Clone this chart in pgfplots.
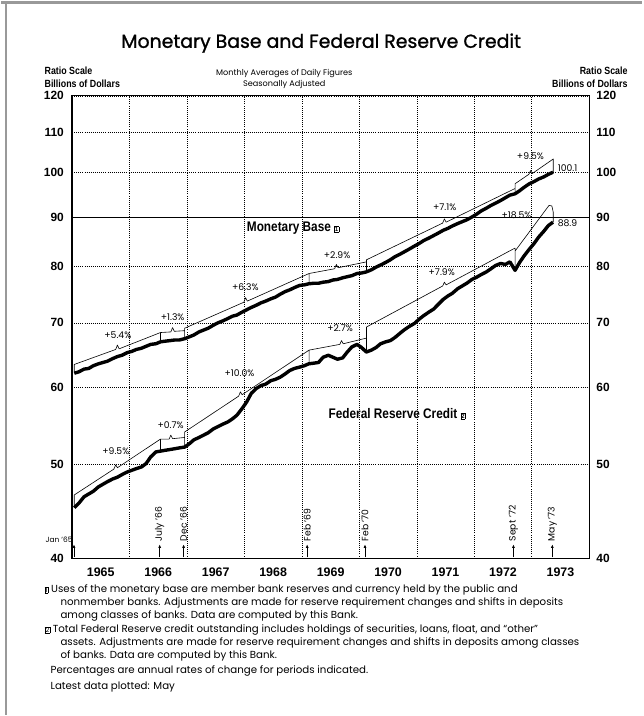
\documentclass[border=0pt]{standalone}
\usepackage{pgfplots}
\pgfplotsset{compat=1.18}
\usetikzlibrary{arrows.meta}
\usepackage{fontspec}
\setmainfont{Poppins}
\newfontfamily\condfont[FakeStretch=0.85]{Liberation Sans}
\newfontfamily\numfont{Liberation Sans}
\newfontfamily\titlefont[FakeBold=1.2]{Poppins}
\newcommand{\fn}[1]{{\setlength{\fboxsep}{0.5pt}\setlength{\fboxrule}{0.4pt}\fbox{\fontsize{6.5}{6.5}\selectfont #1}}}
\newcommand{\pct}{\fontsize{9.3}{10}\selectfont}
\newcommand{\foot}{\fontsize{10.3}{11}\selectfont}

\begin{document}
\begin{tikzpicture}
\begin{scope}[x=1bp,y=-1bp]
\path (0,0) rectangle (643,716);
\draw[black!40, line width=2.5bp] (0,1.5) -- (643,1.5);
\draw[black!40, line width=2.5bp] (5,0) -- (5,716);
\end{scope}

\begin{axis}[
  scale only axis, width=519bp, height=464bp,
  at={(71bp,-559bp)}, anchor=south west,
  xmin=1965, xmax=1974, ymin=40, ymax=120, ymode=log,
  ytick={40,50,60,70,80,90,100,110,120},
  yticklabels={40,50,60,70,80,90,100,110,120},
  major tick length=0, minor tick length=0,
  axis line style={line width=1.1bp},
  xtick={1965.5,1966.5,1967.5,1968.5,1969.5,1970.5,1971.5,1972.5,1973.5},
  xticklabels={1965,1966,1967,1968,1969,1970,1971,1972,1973},
  minor xtick={1966,1967,1968,1969,1970,1971,1972,1973},
  xminorgrids=true, ymajorgrids=true,
  grid style={black, line width=0.5bp, dash pattern=on 0.7bp off 1.4bp},
  minor grid style={black, line width=0.5bp, dash pattern=on 0.7bp off 1.4bp},
  xticklabel style={font=\numfont\bfseries\fontsize{12.5}{12.5}\selectfont, inner sep=0pt, yshift=-9bp},
  yticklabel style={font=\numfont\bfseries\fontsize{12}{12}\selectfont, inner sep=0pt, xshift=-8bp},
  clip=false,
]
\draw[line width=0.6bp] (axis cs:1965,90) -- (axis cs:1974,90);

% Monetary Base
\addplot[black, line width=3.4bp, line join=round] coordinates {
(1965.04,62.1) (1965.12,62.3) (1965.21,62.7) (1965.29,62.8) (1965.37,63.2) (1965.46,63.5)
(1965.54,63.7) (1965.62,63.9) (1965.71,64.3) (1965.79,64.6) (1965.87,64.8) (1965.96,65.2)
(1966.04,65.4) (1966.12,65.7) (1966.21,65.9) (1966.29,66.2) (1966.37,66.5) (1966.46,66.6)
(1966.54,66.9) (1966.62,67.0) (1966.71,67.1) (1966.79,67.2) (1966.87,67.2) (1966.96,67.4)
(1967.04,67.7) (1967.12,68.0) (1967.21,68.5) (1967.29,68.8) (1967.37,69.1) (1967.46,69.6)
(1967.54,70.0) (1967.62,70.3) (1967.71,70.7) (1967.79,71.1) (1967.87,71.3) (1967.96,71.8)
(1968.04,72.2) (1968.12,72.6) (1968.21,73.0) (1968.29,73.4) (1968.37,73.7) (1968.46,74.1)
(1968.54,74.4) (1968.62,74.9) (1968.71,75.4) (1968.79,75.7) (1968.87,76.1) (1968.96,76.5)
(1969.04,76.6) (1969.12,76.8) (1969.21,76.9) (1969.29,76.9) (1969.37,77.1) (1969.46,77.2)
(1969.54,77.5) (1969.62,77.6) (1969.71,77.9) (1969.79,78.1) (1969.87,78.3) (1969.96,78.7)
(1970.04,78.8) (1970.12,79.0) (1970.21,79.4) (1970.29,79.9) (1970.37,80.3) (1970.46,80.8)
(1970.54,81.3) (1970.62,81.9) (1970.71,82.4) (1970.79,82.9) (1970.87,83.4) (1970.96,84.0)
(1971.04,84.5) (1971.12,85.1) (1971.21,85.6) (1971.29,86.1) (1971.37,86.6) (1971.46,87.2)
(1971.54,87.6) (1971.62,88.1) (1971.71,88.6) (1971.79,89.0) (1971.87,89.4) (1971.96,90.0)
(1972.04,90.6) (1972.12,91.3) (1972.21,91.9) (1972.29,92.5) (1972.37,93.0) (1972.46,93.6)
(1972.54,94.2) (1972.62,94.8) (1972.71,95.1) (1972.79,95.8) (1972.87,96.6) (1972.96,97.4)
(1973.04,97.9) (1973.12,98.5) (1973.21,99.0) (1973.29,99.6) (1973.37,100.1)
};
\addplot[black, line width=0.6bp, line join=round] coordinates {
(1965.04,62.1) (1965.04,63.4)
(1965.76,65.7) (1965.79,66.4) (1965.82,65.8) (1966.54,68.4) (1966.54,66.9) (1966.54,68.4)
(1966.72,68.5) (1966.75,69.2) (1966.78,68.6) (1966.96,68.7) (1966.96,67.4) (1966.96,69.1)
(1967.99,73.5) (1968.02,74.3) (1968.05,73.7) (1969.125,78.7) (1969.125,76.8) (1969.125,78.7)
(1969.57,79.6) (1969.60,80.4) (1969.63,79.8) (1970.125,80.9) (1970.125,79.0) (1970.125,81.3)
(1971.45,88.7) (1971.48,89.6) (1971.51,88.9) (1972.71,96.3) (1972.71,95.1) (1972.71,97.4)
(1972.95,99.6) (1972.98,100.5) (1973.01,99.8) (1973.375,103.3) (1973.375,100.1)
};

% Federal Reserve Credit
\addplot[black, line width=3.4bp, line join=round] coordinates {
(1965.04,45.1) (1965.12,45.6) (1965.21,46.3) (1965.29,46.6) (1965.37,46.9) (1965.46,47.4)
(1965.54,47.7) (1965.62,48.0) (1965.71,48.3) (1965.79,48.5) (1965.87,48.8) (1965.96,49.1)
(1966.04,49.3) (1966.12,49.5) (1966.21,49.7) (1966.29,50.1) (1966.37,50.9) (1966.46,51.5)
(1966.54,51.6) (1966.62,51.7) (1966.71,51.8) (1966.79,51.9) (1966.87,52.0) (1966.96,52.1)
(1967.04,52.5) (1967.12,53.0) (1967.21,53.3) (1967.29,53.6) (1967.37,53.9) (1967.46,54.4)
(1967.54,54.7) (1967.62,55.0) (1967.71,55.3) (1967.79,55.7) (1967.87,56.2) (1967.96,57.1)
(1968.04,58.0) (1968.12,59.2) (1968.21,59.9) (1968.29,60.3) (1968.37,60.5) (1968.46,61.0)
(1968.54,61.2) (1968.62,61.5) (1968.71,62.0) (1968.79,62.5) (1968.87,62.8) (1968.96,63.0)
(1969.04,63.2) (1969.12,63.5) (1969.21,63.6) (1969.29,63.7) (1969.37,64.5) (1969.46,64.8)
(1969.54,64.5) (1969.62,64.2) (1969.71,64.4) (1969.79,65.3) (1969.87,66.1) (1969.96,66.5)
(1970.04,66.0) (1970.12,65.3) (1970.21,65.6) (1970.29,66.0) (1970.37,66.6) (1970.46,66.9)
(1970.54,67.1) (1970.62,67.6) (1970.71,68.3) (1970.79,68.9) (1970.87,69.4) (1970.96,69.9)
(1971.04,70.6) (1971.12,71.2) (1971.21,71.8) (1971.29,72.3) (1971.37,73.1) (1971.46,74.0)
(1971.54,74.6) (1971.62,75.1) (1971.71,75.9) (1971.79,76.4) (1971.87,76.9) (1971.96,77.6)
(1972.04,78.0) (1972.12,78.5) (1972.21,79.0) (1972.29,79.6) (1972.37,80.2) (1972.46,80.6)
(1972.54,80.4) (1972.62,80.9) (1972.71,79.3) (1972.79,80.8) (1972.87,82.1) (1972.96,83.4)
(1973.04,84.5) (1973.12,85.8) (1973.21,87.0) (1973.29,88.2) (1973.37,88.9)
};
\addplot[black, line width=0.6bp, line join=round] coordinates {
(1965.04,45.1) (1965.04,46.5)
(1965.73,49.45) (1965.76,49.95) (1965.79,49.6) (1966.54,53.1) (1966.54,51.6) (1966.54,53.1)
(1966.69,53.1) (1966.72,53.6) (1966.75,53.15) (1966.96,53.3) (1966.96,52.1) (1966.96,54.0)
(1967.90,58.8) (1967.93,59.4) (1967.96,59.0) (1969.125,65.6) (1969.125,63.5) (1969.125,65.6)
(1969.66,66.5) (1969.69,67.1) (1969.72,66.6) (1970.125,67.5) (1970.125,65.3) (1970.125,69.3)
(1971.45,76.4) (1971.48,77.1) (1971.51,76.6) (1972.71,83.6) (1972.71,79.3) (1972.71,83.0)
(1973.30,92.5) (1973.35,92.4) (1973.375,91.0) (1973.375,88.9)
};
\end{axis}

\begin{axis}[
  scale only axis, width=519bp, height=464bp,
  at={(71bp,-559bp)}, anchor=south west,
  xmin=1965, xmax=1974, ymin=40, ymax=120, ymode=log,
  ytick={40,50,60,70,80,90,100,110,120},
  yticklabels={40,50,60,70,80,90,100,110,120},
  major tick length=0, minor tick length=0,
  axis x line=none, axis y line*=right,
  axis line style={line width=1.1bp},
  yticklabel style={font=\numfont\bfseries\fontsize{12}{12}\selectfont, inner sep=0pt, xshift=7bp, anchor=west},
]
\end{axis}

\begin{scope}[x=1bp,y=-1bp]
\node[font=\titlefont\fontsize{19}{19}\selectfont] at (321,42) {Monetary Base and Federal Reserve Credit};
\node[anchor=west, font=\condfont\bfseries\fontsize{10.5}{10.5}\selectfont] at (40,70) {Ratio Scale};
\node[anchor=west, font=\condfont\bfseries\fontsize{10.5}{10.5}\selectfont] at (40,83) {Billions of Dollars};
\node[anchor=east, font=\condfont\bfseries\fontsize{10.5}{10.5}\selectfont] at (632,70) {Ratio Scale};
\node[anchor=east, font=\condfont\bfseries\fontsize{10.5}{10.5}\selectfont] at (632,83) {Billions of Dollars};
\node[font=\fontsize{8.2}{9}\selectfont] at (284,72) {Monthly Averages of Daily Figures};
\node[font=\fontsize{8.2}{9}\selectfont] at (284,84) {Seasonally Adjusted};

\node[anchor=west, font=\condfont\bfseries\fontsize{14}{14}\selectfont] at (243,228) {Monetary Base \fn{1}};
\node[anchor=west, font=\condfont\bfseries\fontsize{14}{14}\selectfont] at (325,414) {Federal Reserve Credit \fn{2}};

\node[anchor=west, font=\pct] at (555,167) {100.1};
\node[anchor=west, font=\pct] at (555,223) {88.9};

\node[font=\pct] at (117,335) {+5.4\%};
\node[font=\pct] at (172,317) {+1.3\%};
\node[font=\pct] at (245,287) {+6.3\%};
\node[font=\pct] at (337,255) {+2.9\%};
\node[font=\pct] at (445,207) {+7.1\%};
\node[font=\pct] at (531,155) {+9.5\%};
\node[font=\pct] at (115,451) {+9.5\%};
\node[font=\pct] at (170,425) {+0.7\%};
\node[font=\pct] at (239,373) {+10.0\%};
\node[font=\pct] at (340,328) {+2.7\%};
\node[font=\pct] at (442,272) {+7.9\%};
\node[font=\pct] at (517,215) {+18.5\%};

\foreach \px in {73,159,183,307,365,514,553}
  \draw[-{Latex[length=3.5bp,width=3bp]}, line width=0.9bp] (\px,558) -- (\px,545);
\node[font=\fontsize{7.5}{8}\selectfont] at (58,540) {Jan '65};
\foreach \px/\lab in {159/July '66,183/Dec '66,307/Feb '69,365/Feb '70,514/Sept '72,553/May '73}
  \node[rotate=90, anchor=west, font=\pct, inner sep=1bp] at (\px,543) {\lab};

\node[anchor=west, font=\foot] at (40,591) {\fn{1} Uses of the monetary base are member bank reserves and currency held by the public and};
\node[anchor=west, font=\foot] at (56,604) {nonmember banks. Adjustments are made for reserve requirement changes and shifts in deposits};
\node[anchor=west, font=\foot] at (56,617) {among classes of banks. Data are computed by this Bank.};
\node[anchor=west, font=\foot] at (40,631) {\fn{2} Total Federal Reserve credit outstanding includes holdings of securities, loans, float, and ``other''};
\node[anchor=west, font=\foot] at (56,644) {assets. Adjustments are made for reserve requirement changes and shifts in deposits among classes};
\node[anchor=west, font=\foot] at (56,657) {of banks. Data are computed by this Bank.};
\node[anchor=west, font=\foot] at (46,672) {Percentages are annual rates of change for periods indicated.};
\node[anchor=west, font=\foot] at (46,688) {Latest data plotted: May};
\end{scope}
\end{tikzpicture}
\end{document}
